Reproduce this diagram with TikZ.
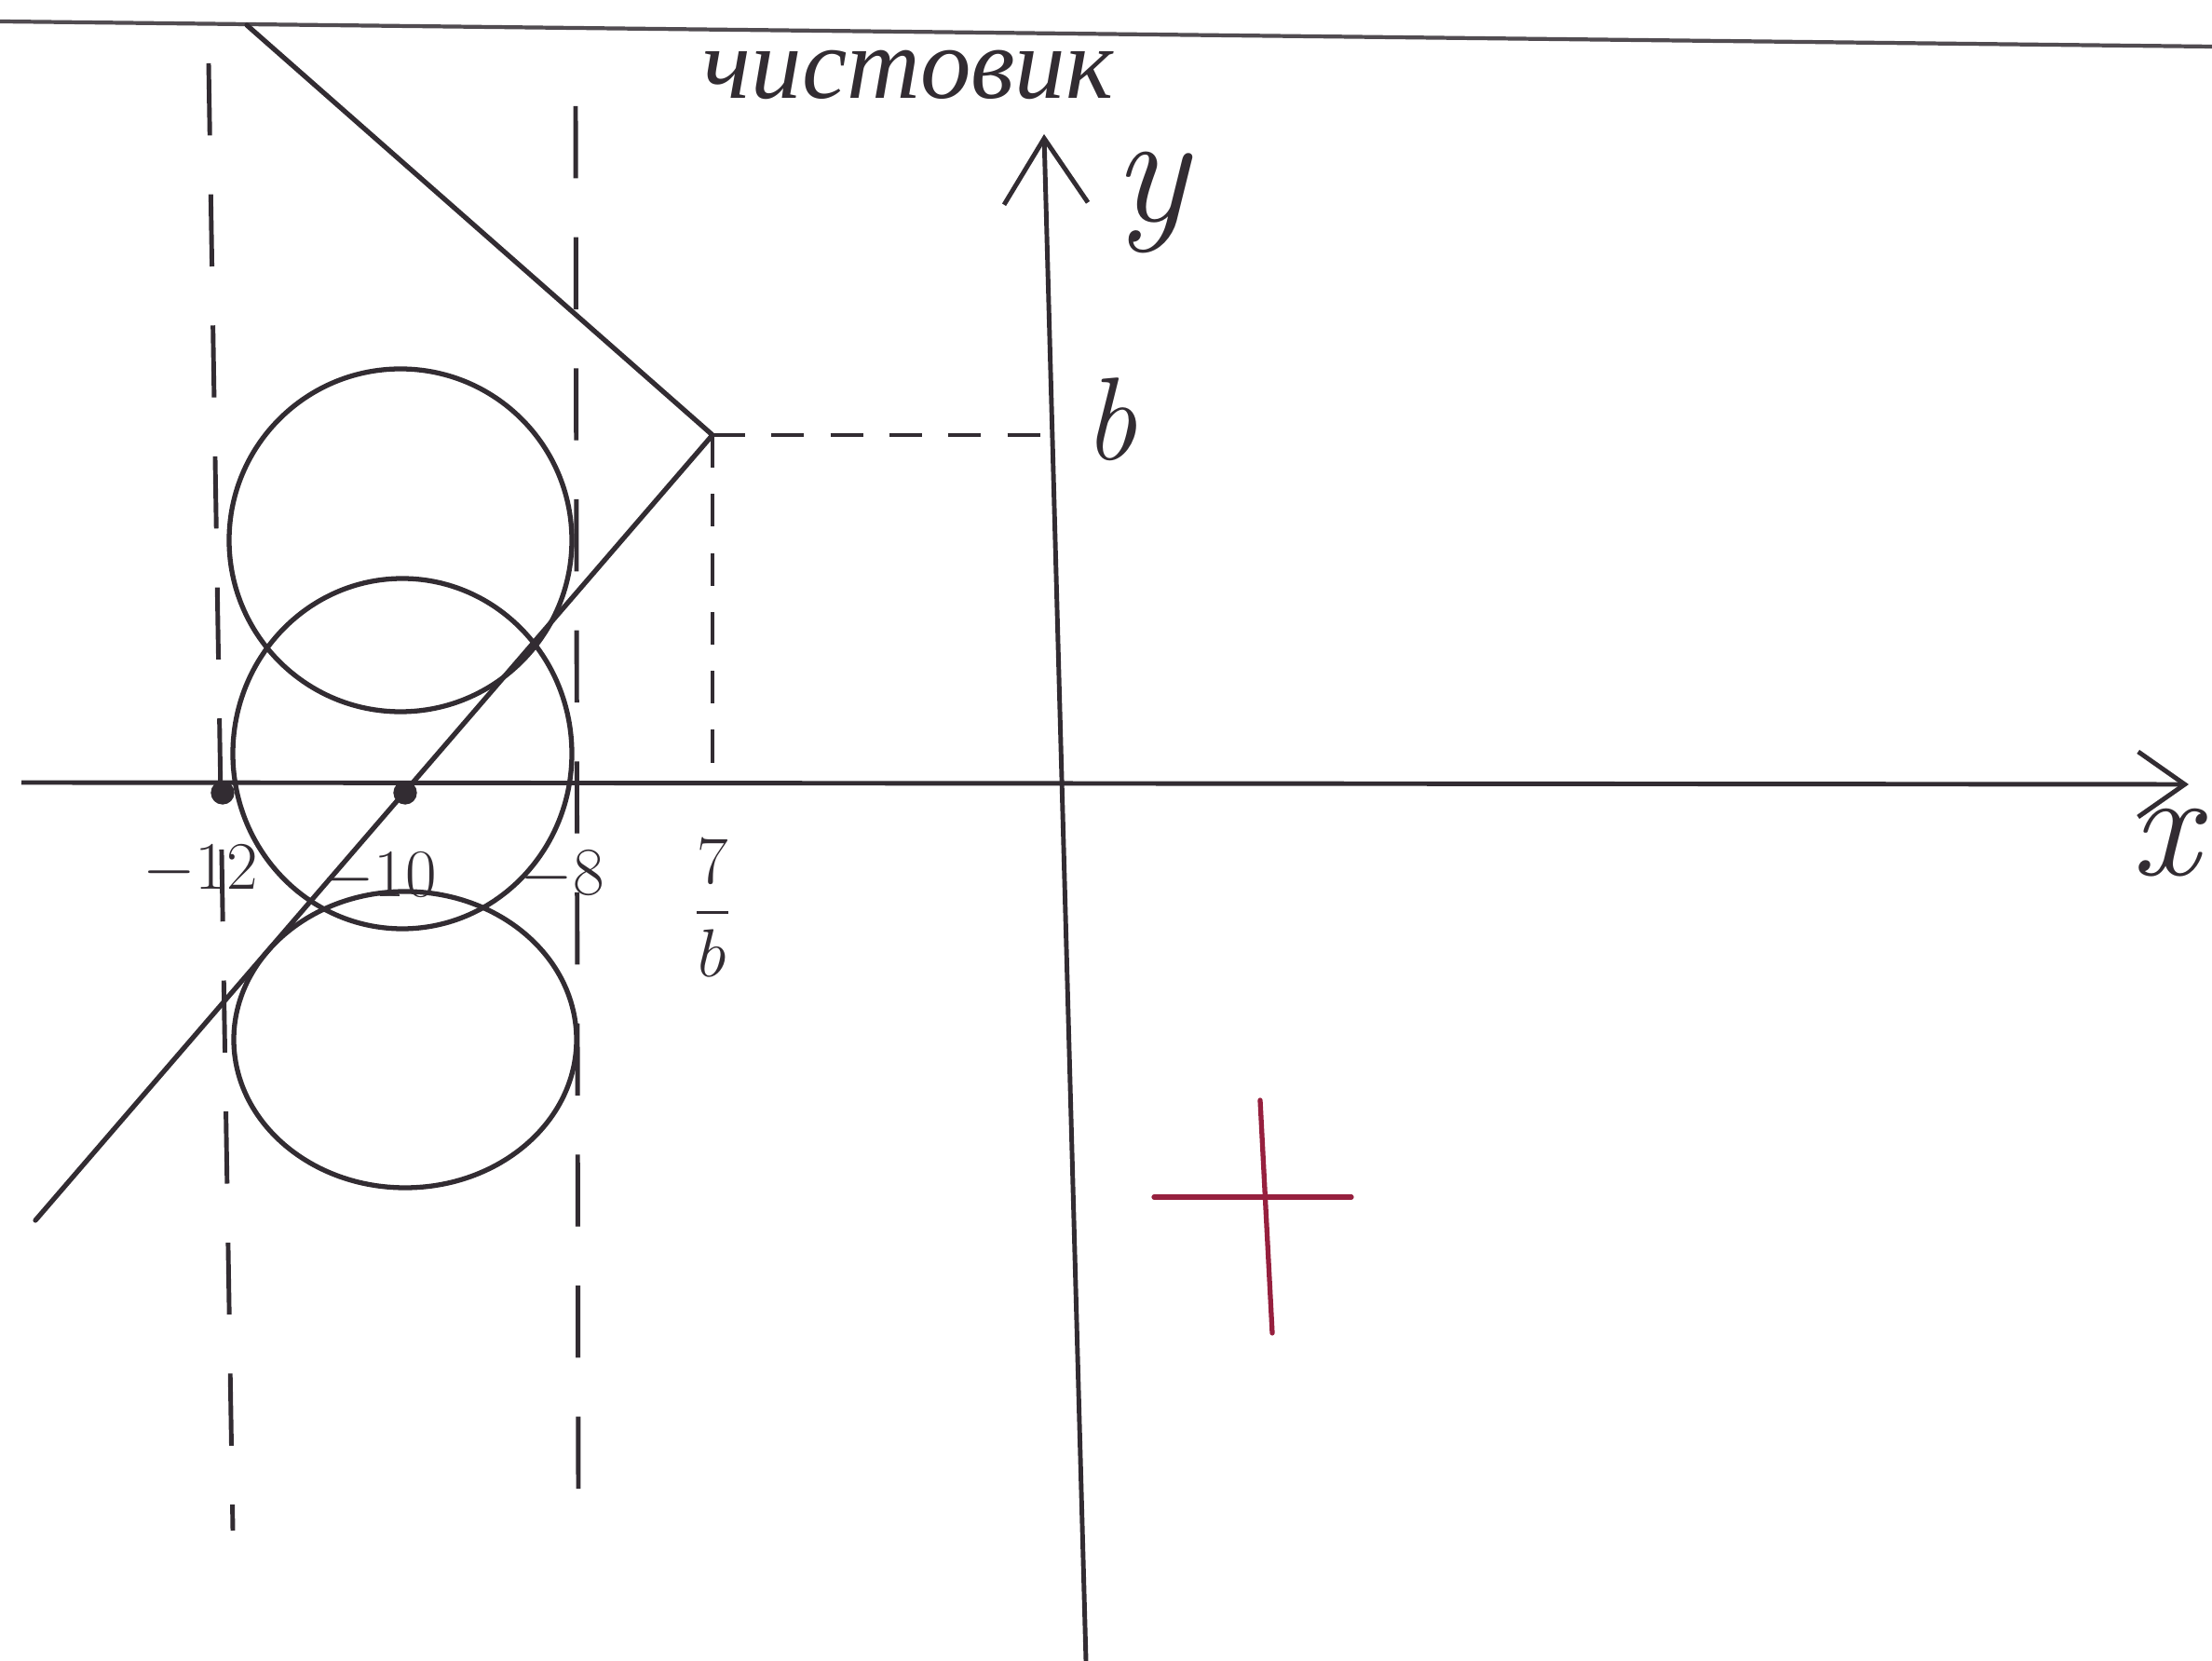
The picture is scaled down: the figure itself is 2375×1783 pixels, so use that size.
\documentclass[tikz,border=0pt]{standalone}
\usepackage{amsmath}
\usepackage{fontspec}
\newfontfamily\cyrfont{Liberation Serif}
\usetikzlibrary{arrows.meta}
\definecolor{inkgray}{RGB}{50,44,50}
\definecolor{inkred}{RGB}{150,32,62}
\tikzset{
  sheetln/.style={line width=1.2pt, inkgray!85},
  axisln/.style={line width=1.4pt, inkgray},
  graphln/.style={line width=1.5pt, inkgray, line cap=round},
  ovalln/.style={line width=1.5pt, inkgray},
  boundln/.style={dash pattern=on 22pt off 18pt, line width=1.4pt, inkgray},
  dropln/.style={dash pattern=on 10pt off 8pt, line width=1.4pt, inkgray},
  marklbl/.style={inkgray, font=\fontsize{20}{22}\selectfont},
}
\newcommand{\inkdot}[1]{%
  \fill[inkgray] #1 circle (3.6pt);
}

\begin{document}
\begin{tikzpicture}[x=0.01cm, y=-0.01cm]
    \useasboundingbox (0,0) rectangle (2375,1783);
    \fill[white] (0,0) rectangle (2375,1783);
    % ruled line of the sheet
    \draw[sheetln] (0,23) -- (2375,50);
    \node[inkgray, inner sep=0pt, font=\cyrfont\itshape\fontsize{31}{34}\selectfont] (title) at (975,80) {чистовик};
    % --- axes ---
    \coordinate (O) at (1140,845);
    \draw[axisln, -{Straight Barb[length=5mm,width=7mm]}] (23,840) -- (2350,842);
    \draw[axisln, -{Straight Barb[length=7mm,width=9mm]}] (1166,1783) -- (1121,144);
    \node[inkgray, inner sep=0pt, font=\itshape\fontsize{48}{50}\selectfont] (ylbl) at (1236,218) {y};
    \node[inkgray, font=\itshape\fontsize{46}{48}\selectfont] (xlbl) at (2325,905) {x};
    % --- boundary lines x=-12 and x=-8 ---
    \draw[boundln] (224,68) -- (250,1643);
    \draw[boundln] (618,114) -- (621,1605);
    % --- the corner ---
    \coordinate (vtx) at (765,467);
    \draw[graphln] (265,27) -- (vtx) -- (38,1310);
    \draw[dropln] (vtx) -- (1130,467);
    \draw[dropln] (vtx) -- (765,830);
    \node[inkgray, font=\itshape\fontsize{36}{38}\selectfont] (blbl) at (1192,450) {b};
    \node[marklbl, font=\fontsize{22}{24}\selectfont] (fraclbl) at (765,975) {$\dfrac{7}{b}$};
    % --- circles ---
    \draw[ovalln] (430,580) ellipse (184 and 184);
    \draw[ovalln] (432,809) ellipse (182 and 188);
    \draw[ovalln] (435,1116) ellipse (184 and 159);
    % marked points on the x-axis
    \inkdot{(239,851)}
    \inkdot{(435,851)}
    \node[marklbl] (m12) at (215,934) {$-12$};
    \node[marklbl] (m10) at (407,942) {$-10$};
    \node[marklbl] (m8) at (604,940) {$-8$};
    % --- red cross ---
    \draw[line width=1.5pt, inkred, line cap=round] (1239,1285) -- (1451,1285);
    \draw[line width=1.5pt, inkred, line cap=round] (1353,1181) -- (1366,1431);
\end{tikzpicture}
\end{document}
